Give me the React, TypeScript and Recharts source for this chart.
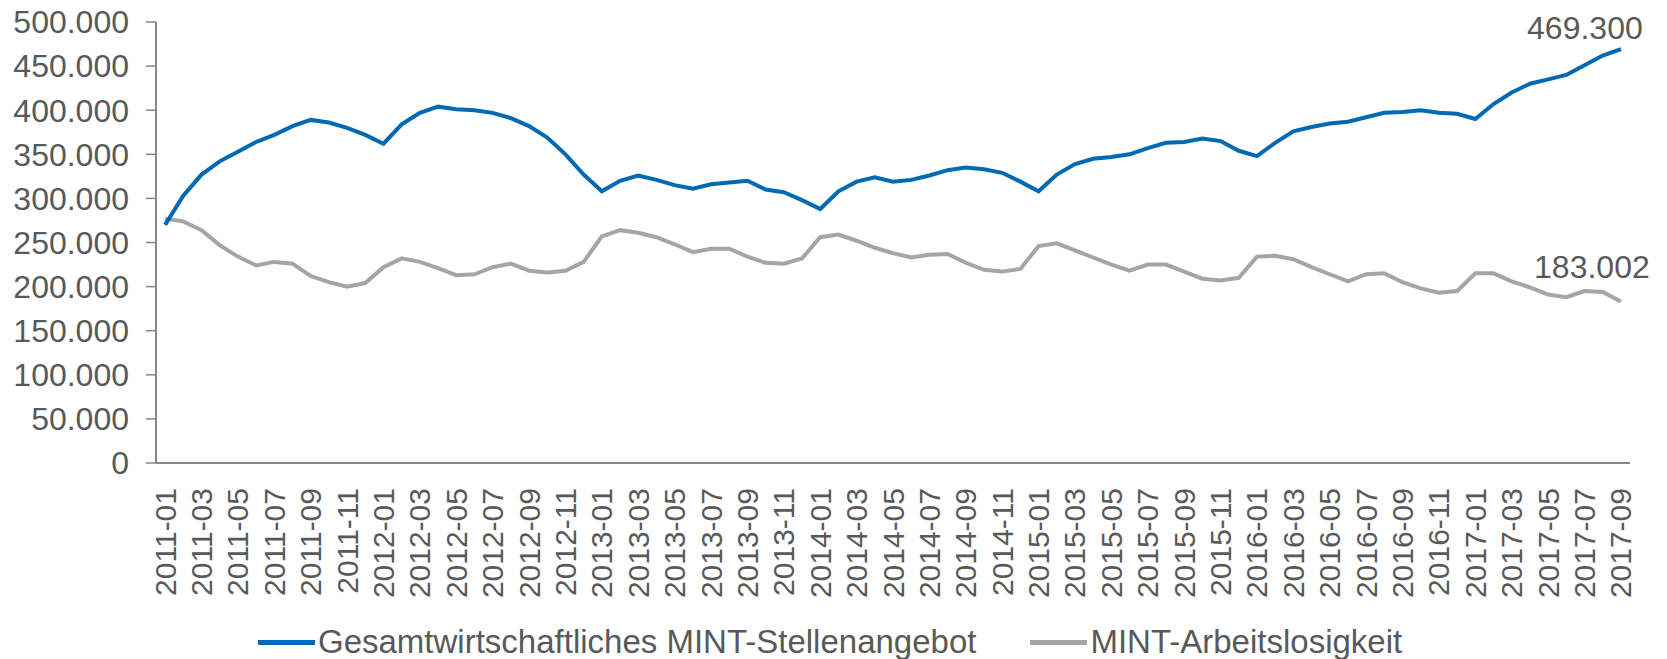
import React from 'react';
import { LineChart, Line, XAxis, YAxis, Legend, LabelList } from 'recharts';

// months 2011-01 .. 2017-09
const months: string[] = [];
for (let y = 2011; y <= 2017; y++) {
  for (let m = 1; m <= 12; m++) {
    if (y === 2017 && m > 9) break;
    months.push(`${y}-${String(m).padStart(2, '0')}`);
  }
}

const stellenangebot = [
  270000, 303000, 327000, 342000, 353000, 364000, 372000, 382000, 389000, 386000, 380000, 372000,
  362000, 384000, 397000, 404000, 401000, 400000, 397000, 391000, 382000, 369000, 350000, 327000,
  308000, 320000, 326000, 321000, 315000, 311000, 316000, 318000, 320000, 310000, 307000, 298000,
  288000, 308000, 319000, 324000, 319000, 321000, 326000, 332000, 335000, 333000, 329000, 319000,
  308000, 327000, 339000, 345000, 347000, 350000, 357000, 363000, 364000, 368000, 365000, 354000,
  348000, 363000, 376000, 381000, 385000, 387000, 392000, 397000, 398000, 400000, 397000, 396000,
  390000, 407000, 420000, 430000, 435000, 440000, 451000, 462000, 469300,
];

const arbeitslosigkeit = [
  277000, 274000, 264000, 247000, 234000, 224000, 228000, 226000, 212000, 205000, 200000, 204000,
  222000, 232000, 228000, 221000, 213000, 214000, 222000, 226000, 218000, 216000, 218000, 228000,
  257000, 264000, 261000, 256000, 248000, 239000, 243000, 243000, 234000, 227000, 226000, 232000,
  256000, 259000, 252000, 244000, 238000, 233000, 236000, 237000, 227000, 219000, 217000, 220000,
  246000, 249000, 241000, 233000, 225000, 218000, 225000, 225000, 217000, 209000, 207000, 210000,
  234000, 235000, 231000, 222000, 214000, 206000, 214000, 215000, 205000, 198000, 193000, 195000,
  215000, 215000, 206000, 199000, 191000, 188000, 195000, 194000, 183002,
];

const yTicks = [0, 50000, 100000, 150000, 200000, 250000, 300000, 350000, 400000, 450000, 500000];

const BLUE = '#0069b4';
const GRAY = '#a5a5a5';
const TEXT = '#595959';
const AXIS = '#868686';
const FONT = '"Liberation Sans", Arial, sans-serif';

const data = months.map((m, i) => ({
  i,
  month: m,
  stellen: stellenangebot[i],
  arbeitslos: arbeitslosigkeit[i],
}));

const last = data.length - 1;
// tick marks sit between the months, labels on every second month
const boundaryTicks = data.map((d) => d.i - 0.5).concat([last + 0.5]);
const labelTicks = data.filter((d) => d.i % 2 === 0).map((d) => d.i);

const fmt = (v: number) => String(v).replace(/\B(?=(\d{3})+(?!\d))/g, '.');

const MonthTick = (props: any) => {
  const { x, y, payload } = props;
  return (
    <text
      x={x}
      y={y}
      transform={`rotate(-90, ${x}, ${y})`}
      textAnchor="end"
      dominantBaseline="central"
      fill={TEXT}
      fontSize={30}
      fontFamily={FONT}
    >
      {months[payload.value]}
    </text>
  );
};

const endLabel = (dx: number, dy: number) => (props: any) => {
  const { x, y, index, value } = props;
  if (index !== last) return null;
  return (
    <text x={x + dx} y={y + dy} textAnchor="middle" fill={TEXT} fontSize={32} fontFamily={FONT}>
      {fmt(value)}
    </text>
  );
};

const LegendContent = () => (
  <div
    style={{
      display: 'flex',
      alignItems: 'center',
      gap: 54,
      fontFamily: FONT,
      fontSize: 33,
      color: TEXT,
      paddingLeft: 258,
      marginTop: 4,
    }}
  >
    {[
      { name: 'Gesamtwirtschaftliches MINT-Stellenangebot', color: BLUE },
      { name: 'MINT-Arbeitslosigkeit', color: GRAY },
    ].map((it) => (
      <div key={it.name} style={{ display: 'flex', alignItems: 'center' }}>
        <span style={{ display: 'inline-block', width: 57, height: 5, background: it.color, marginRight: 3 }} />
        <span>{it.name}</span>
      </div>
    ))}
  </div>
);

export default function App() {
  return (
    <div style={{ position: 'absolute', left: 0, top: 0, background: '#fff' }}>
      <LineChart width={1667} height={659} data={data} margin={{ top: 22, right: 37, left: 0, bottom: 0 }}>
        <XAxis
          xAxisId="a"
          dataKey="i"
          type="number"
          domain={[-0.5, last + 0.5]}
          ticks={boundaryTicks}
          interval={0}
          tick={false}
          tickLine={{ stroke: AXIS, strokeWidth: 1.5 }}
          tickSize={9}
          axisLine={{ stroke: AXIS, strokeWidth: 2 }}
          height={10}
        />
        <XAxis
          xAxisId="b"
          dataKey="i"
          type="number"
          domain={[-0.5, last + 0.5]}
          ticks={labelTicks}
          interval={0}
          tick={<MonthTick />}
          tickLine={false}
          tickSize={2}
          tickMargin={13}
          axisLine={false}
          height={146}
        />
        <YAxis
          domain={[0, 500000]}
          ticks={yTicks}
          interval={0}
          width={156}
          tickFormatter={fmt}
          tick={{ fill: TEXT, fontSize: 32, fontFamily: FONT }}
          tickLine={{ stroke: AXIS, strokeWidth: 1.5 }}
          tickSize={10}
          tickMargin={17}
          axisLine={{ stroke: AXIS, strokeWidth: 2 }}
        />
        <Legend verticalAlign="bottom" height={40} wrapperStyle={{ left: 0, width: 1667 }} content={<LegendContent />} />
        <Line
          xAxisId="a"
          type="linear"
          dataKey="arbeitslos"
          name="MINT-Arbeitslosigkeit"
          stroke={GRAY}
          strokeWidth={4}
          dot={false}
          isAnimationActive={false}
        >
          <LabelList dataKey="arbeitslos" content={endLabel(-29, -24)} />
        </Line>
        <Line
          xAxisId="a"
          type="linear"
          dataKey="stellen"
          name="Gesamtwirtschaftliches MINT-Stellenangebot"
          stroke={BLUE}
          strokeWidth={4}
          dot={false}
          isAnimationActive={false}
        >
          <LabelList dataKey="stellen" content={endLabel(-36, -10)} />
        </Line>
      </LineChart>
    </div>
  );
}
